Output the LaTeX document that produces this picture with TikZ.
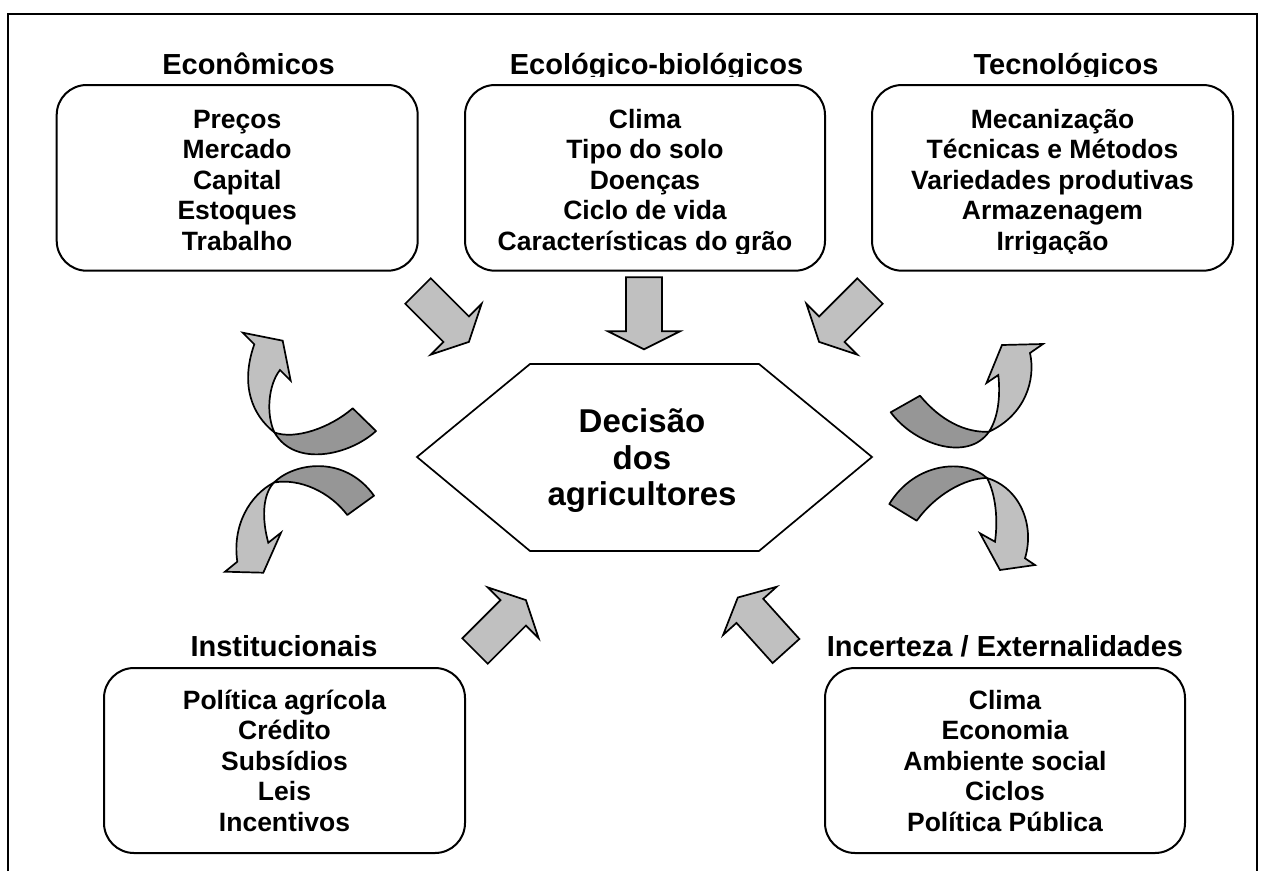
\documentclass[tikz,border=0pt]{standalone}
\usepackage{fontspec}
\setmainfont{Liberation Sans}
\definecolor{lightgrey}{RGB}{192,192,192}
\definecolor{darkgrey}{RGB}{150,150,150}
\begin{document}
\begin{tikzpicture}[x=1pt,y=-1pt,
  frameline/.style={line width=2pt},
  catbox/.style={draw, line width=2pt, rounded corners=30pt,
    minimum width=361pt, minimum height=185.7pt, inner sep=0pt},
  cathead/.style={font=\bfseries\fontsize{29}{34}\selectfont, inner sep=0pt, anchor=base},
  catlist/.style={font=\bfseries\fontsize{26.5}{30.5}\selectfont, align=center,
    inner sep=0pt, anchor=north},
  hexline/.style={line width=1.7pt, line join=miter},
  blockarrow/.style={draw, fill=lightgrey, line width=1.7pt, line join=miter},
  ribbonback/.style={draw, fill=darkgrey, line width=1.7pt, line join=round},
  ribbonfront/.style={draw, fill=lightgrey, line width=1.7pt, line join=miter},
]
\useasboundingbox (0,0) rectangle (1262,871);

% outer frame (open at the bottom edge of the page)
\draw[frameline] (8,871) -- (8,14) -- (1257,14) -- (1257,871);

% ---- category boxes ----
\node[catbox] (econ) at (237.2,177.85) {};
\node[catbox, minimum width=360pt] (ecol) at (645,177.85) {};
\node[catbox] (tec) at (1052.5,177.85) {};
\node[catbox, minimum height=185pt] (inst) at (284.5,760.5) {};
\node[catbox, minimum width=360pt, minimum height=185pt] (inc) at (1005,760.5) {};

% ---- headings ----
\node[cathead] (econhead) at (248.5,74) {Econômicos};
\begin{scope}
  \clip (0,0) rectangle (1262,76.5);
  \node[cathead] (ecolhead) at (656.5,74) {Ecológico-biológicos};
  \node[cathead] (techead) at (1066,74) {Tecnológicos};
\end{scope}
\node[cathead] (insthead) at (284,656) {Institucionais};
\node[cathead] (inchead) at (1005,656) {Incerteza / Externalidades};

% ---- lists inside the boxes ----
\node[catlist] (econlist) at (237.2,104)
  {\rule{0pt}{24pt}Preços\\Mercado\\Capital\\Estoques\\Trabalho};
\begin{scope}
  \clip (0,0) rectangle (1262,253.5);
  \node[catlist] (ecollist) at (645,104)
    {\rule{0pt}{24pt}Clima\\Tipo do solo\\Doenças\\Ciclo de vida\\Características do grão};
  \node[catlist] (teclist) at (1052.5,104)
    {\rule{0pt}{24pt}Mecanização\\Técnicas e Métodos\\Variedades produtivas\\Armazenagem\\Irrigação};
\end{scope}
\node[catlist] (instlist) at (284.5,685)
  {\rule{0pt}{24pt}Política agrícola\\Crédito\\Subsídios\\Leis\\Incentivos};
\node[catlist] (inclist) at (1005,685)
  {\rule{0pt}{24pt}Clima\\Economia\\Ambiente social\\Ciclos\\Política Pública};

% ---- central hexagon ----
\coordinate (hw) at (417,457);
\coordinate (hnw) at (530,364);
\coordinate (hne) at (759,364);
\coordinate (he) at (872,457);
\coordinate (hse) at (759,551);
\coordinate (hsw) at (530,551);
\draw[hexline] (hw) -- (hnw) -- (hne) -- (he) -- (hse) -- (hsw) -- cycle;
\node[font=\bfseries\fontsize{33}{36.2}\selectfont, align=center, inner sep=0pt, anchor=north]
  (decision) at (642,404.7) {\rule{0pt}{28pt}Decisão\\dos\\agricultores};

% ---- straight block arrows (tail at origin, pointing along +x) ----
\foreach \px/\py/\ang in {418/291/-45, 644/277.3/-90, 870/291/-135, 475/651/45, 786/651/132}{
  \draw[blockarrow, shift={(\px,\py)}, rotate=\ang]
    (0,-18) -- (54,-18) -- (54,-36) -- (72,0) -- (54,36) -- (54,18) -- (0,18) -- cycle;
}

% ---- twisted ribbon arrows, left side ----
\draw[ribbonback] (352.7,408.3) -- (376,431) .. controls (350,455) and (295,468) .. (274.5,432.5)
  .. controls (295,440) and (330,428) .. cycle;
\draw[ribbonfront] (274.5,432.5) .. controls (252,415) and (240,385) .. (254.3,344.3)
  -- (242.7,332.7) -- (282.7,340.7) -- (290.7,380.7) -- (280,370)
  .. controls (268,385) and (266,415) .. cycle;

\draw[ribbonback] (374,495.7) -- (347.3,515) .. controls (330,492) and (300,478) .. (274,482.5)
  .. controls (295,462) and (345,455) .. cycle;
\draw[ribbonfront] (274,482.5) .. controls (250,495) and (232,525) .. (237.3,561.7)
  -- (225,571.7) -- (263.3,572.7) -- (281,532.7) -- (268.3,542.7)
  .. controls (262,520) and (262,495) .. cycle;

% ---- twisted ribbon arrows, right side ----
\draw[ribbonback] (920,395.7) -- (890.7,412.3) .. controls (915,445) and (968,462) .. (989,431.7)
  .. controls (965,433) and (940,420) .. cycle;
\draw[ribbonfront] (989,431.7) .. controls (1000,415) and (1000,390) .. (998.3,375)
  -- (986.5,383) -- (1002,345) -- (1043,344) -- (1030,353)
  .. controls (1036,380) and (1025,415) .. cycle;

\draw[ribbonback] (889.3,504) -- (916.7,520.7) .. controls (935,495) and (965,478) .. (987,478)
  .. controls (965,458) and (915,462) .. cycle;
\draw[ribbonfront] (987,478) .. controls (1020,488) and (1035,525) .. (1025,558.3)
  -- (1035,565) -- (1000,570) -- (980,533.3) -- (995,541.7)
  .. controls (998,520) and (996,495) .. cycle;
\end{tikzpicture}
\end{document}
